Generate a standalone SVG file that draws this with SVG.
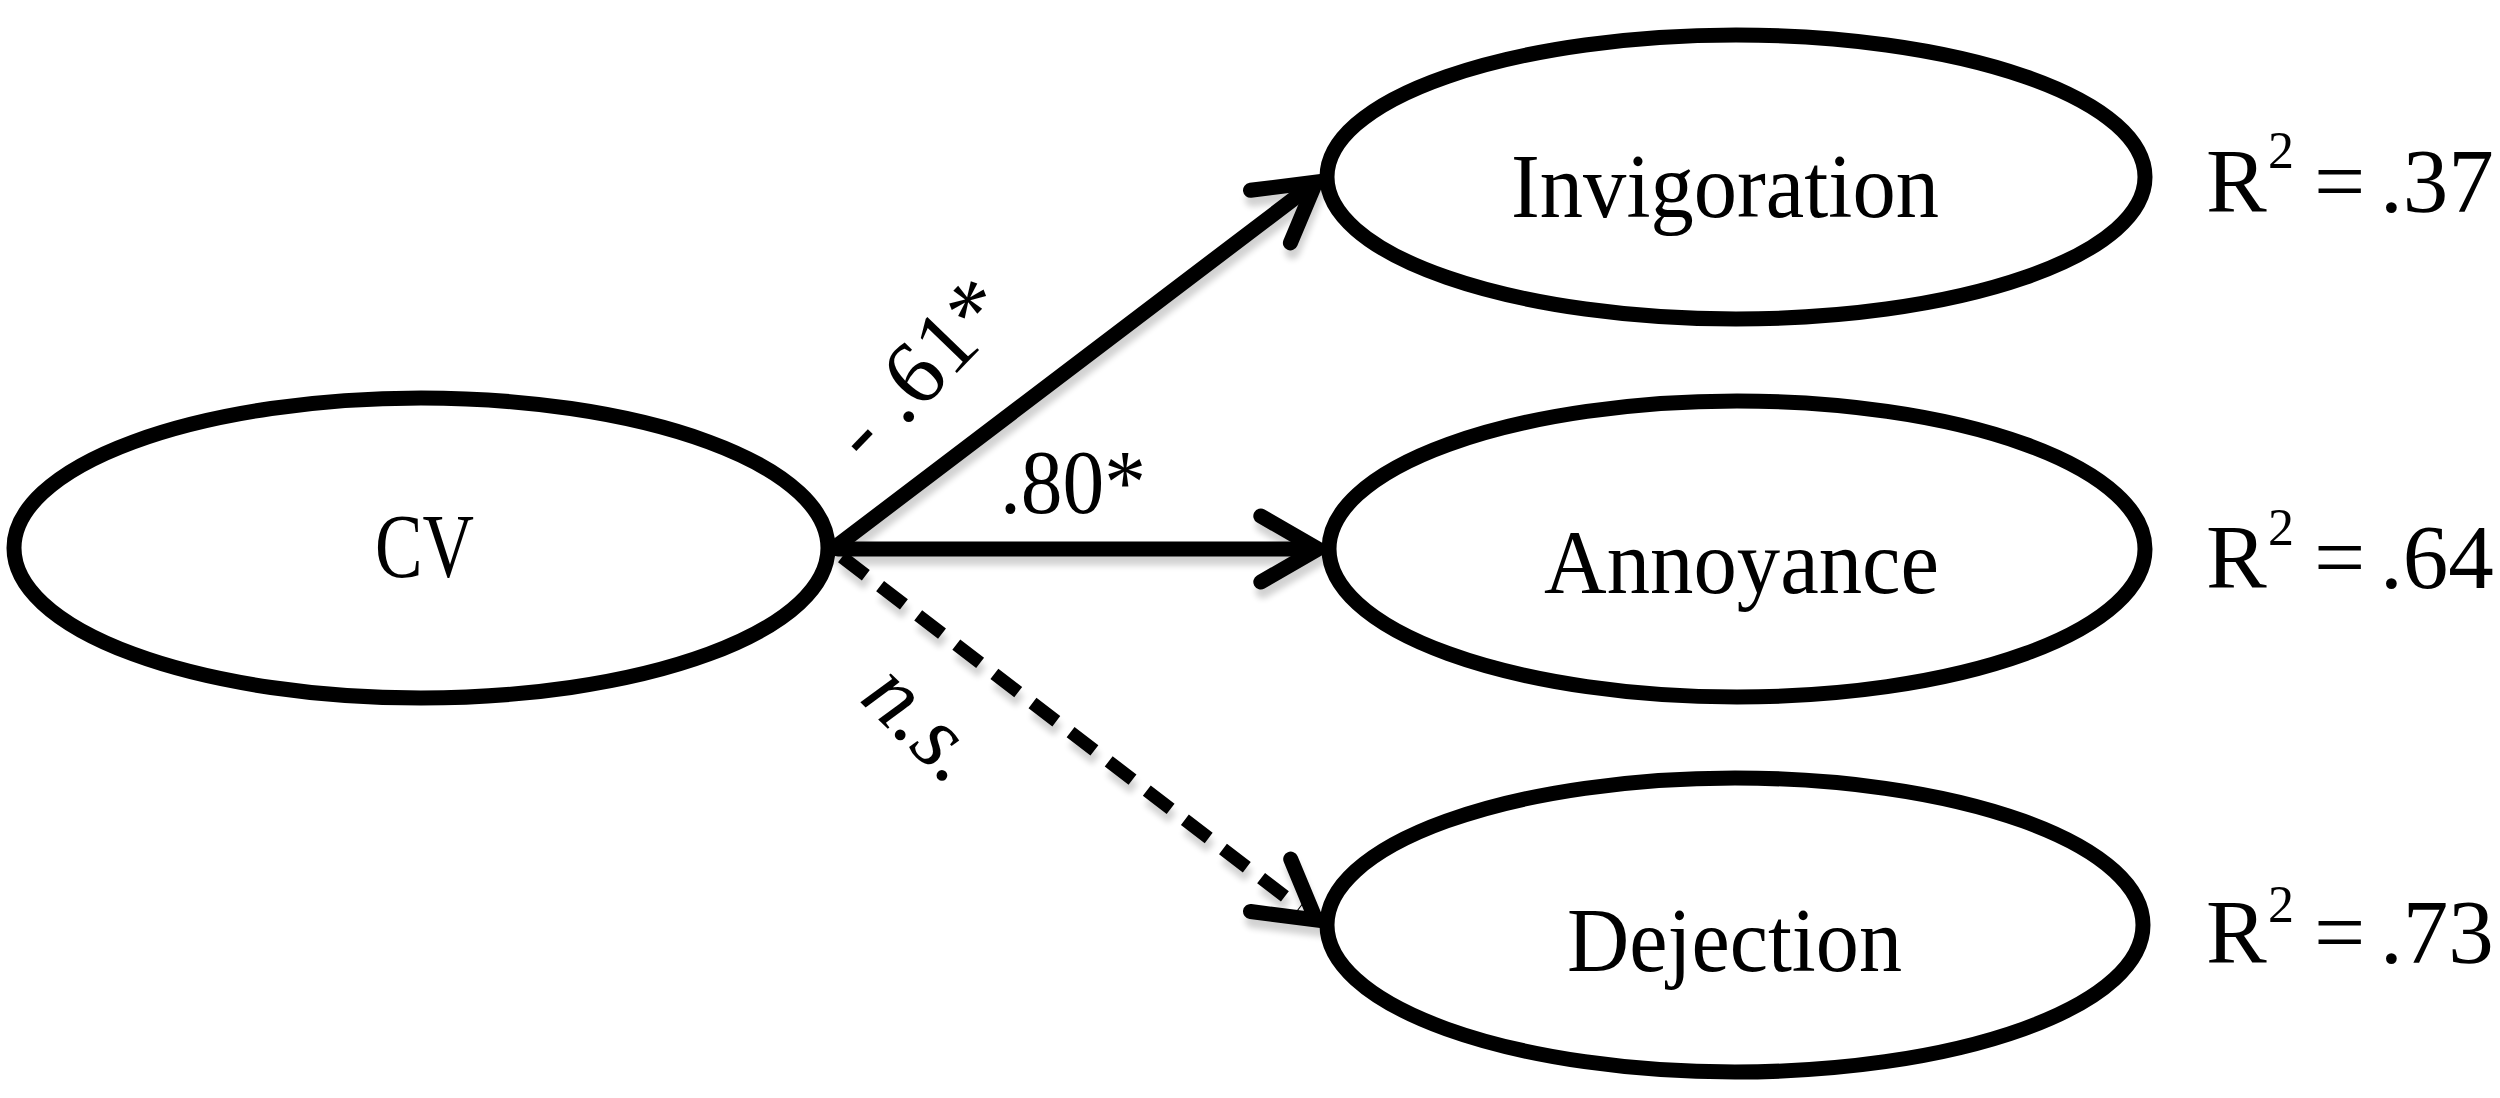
<svg xmlns="http://www.w3.org/2000/svg" width="2500" height="1098" viewBox="0 0 2500 1098">
<style>
.node{fill:#fff;stroke:#000;stroke-width:15}
.lbl{font-family:"Liberation Serif","Times New Roman",serif;font-size:91px;fill:#000}
.conn{fill:none;stroke:#000;stroke-width:15;stroke-linecap:round;stroke-linejoin:round}
.dash{stroke-dasharray:30 18;stroke-linecap:butt;stroke-width:13}
.head{fill:none;stroke:#000;stroke-width:15;stroke-linecap:round;stroke-linejoin:miter}
</style>
<defs>
<filter id="sh" x="-10%" y="-10%" width="120%" height="130%">
<feGaussianBlur in="SourceAlpha" stdDeviation="3"/>
<feOffset dx="2" dy="9" result="b"/>
<feComponentTransfer><feFuncA type="linear" slope="0.18"/></feComponentTransfer>
<feMerge><feMergeNode/><feMergeNode in="SourceGraphic"/></feMerge>
</filter>
</defs>
<rect width="2500" height="1098" fill="#fff"/>
<g id="connectors" filter="url(#sh)">
<line class="conn" x1="838" y1="545" x2="1312" y2="185"/>
<polyline class="head" points="1250.5,190.3 1316,182 1290.4,242.9"/>
<line class="conn" x1="838" y1="549" x2="1312" y2="549"/>
<polyline class="head" points="1260.8,516 1318,549 1260.8,582"/>
<line class="conn dash" x1="842" y1="557" x2="1300" y2="908"/>
<polyline class="head" points="1290.7,859.1 1316,920 1250.5,911.5"/>
</g>
<g id="node-cv">
<ellipse class="node" cx="421" cy="548" rx="407" ry="150"/>
<text class="lbl" x="375" y="577" textLength="99" lengthAdjust="spacingAndGlyphs">CV</text>
</g>
<g id="node-invigoration">
<ellipse class="node" cx="1736" cy="177" rx="409" ry="142"/>
<text class="lbl" x="1511" y="217" textLength="428" lengthAdjust="spacingAndGlyphs">Invigoration</text>
</g>
<g id="node-annoyance">
<ellipse class="node" cx="1737" cy="549" rx="408" ry="148"/>
<text class="lbl" x="1544" y="593" textLength="395" lengthAdjust="spacingAndGlyphs">Annoyance</text>
</g>
<g id="node-dejection">
<ellipse class="node" cx="1735" cy="925" rx="408" ry="147"/>
<text class="lbl" x="1567" y="971" textLength="335" lengthAdjust="spacingAndGlyphs">Dejection</text>
</g>
<g id="path-labels">
<text class="lbl" font-size="92" transform="translate(867 466) rotate(-46)">- .61*</text>
<text class="lbl" x="1000" y="513" font-size="90" textLength="146" lengthAdjust="spacingAndGlyphs">.80*</text>
<text class="lbl" font-size="90" font-style="italic" transform="translate(858 700) rotate(44)">n.s.</text>
</g>
<g id="r2-labels">
<text class="lbl" font-size="90"><tspan x="2206" y="212">R</tspan><tspan x="2268" y="168" font-size="52">2</tspan><tspan x="2314" y="212">=</tspan><tspan x="2380" y="212">.37</tspan></text>
<text class="lbl" font-size="90"><tspan x="2206" y="588">R</tspan><tspan x="2268" y="545" font-size="52">2</tspan><tspan x="2314" y="588">=</tspan><tspan x="2380" y="588">.64</tspan></text>
<text class="lbl" font-size="90"><tspan x="2206" y="963">R</tspan><tspan x="2268" y="922" font-size="52">2</tspan><tspan x="2314" y="963">=</tspan><tspan x="2380" y="963">.73</tspan></text>
</g>
</svg>
